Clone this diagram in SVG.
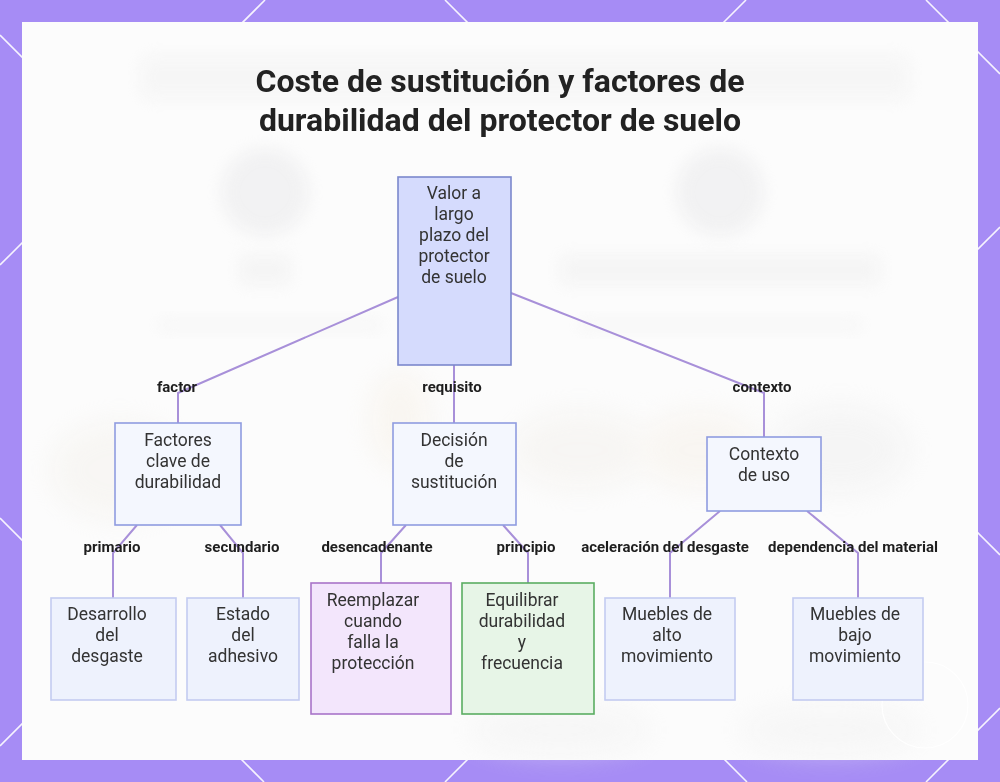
<svg xmlns="http://www.w3.org/2000/svg" width="1000" height="782" viewBox="0 0 1000 782">
<defs>
<filter id="blur" x="-50%" y="-50%" width="200%" height="200%"><feGaussianBlur stdDeviation="8"/></filter>
<filter id="blur2" x="-50%" y="-50%" width="200%" height="200%"><feGaussianBlur stdDeviation="14"/></filter>
<style>
.bgline{stroke:#ffffff;stroke-width:1.6;opacity:0.9}
.n rect{stroke-width:1.6}
.root rect{fill:#d5dbfd;stroke:#7b88cc}
.mid rect{fill:#f4f7fe;stroke:#8f9ce0}
.leaf rect{fill:#eef2fd;stroke:#c3cbf1}
.purple rect{fill:#f3e6fc;stroke:#a874c8}
.green rect{fill:#e7f5e7;stroke:#5aad62}
.n text{font-family:Roboto,"Liberation Sans",sans-serif;font-size:17.5px;fill:#333;text-anchor:middle}
.edges path{fill:none;stroke:#a890d9;stroke-width:2}
.lbl{font-family:Roboto,"Liberation Sans",sans-serif;font-size:15px;font-weight:bold;fill:#1e1e1e;text-anchor:middle}
.title{font-family:Roboto,"Liberation Sans",sans-serif;font-size:32px;font-weight:bold;fill:#222;text-anchor:middle}
</style>
</defs>
<rect x="0" y="0" width="1000" height="782" fill="#a68cf5"/>
<g id="bg-lines">
<line class="bgline" x1="0" y1="265" x2="265" y2="0"/>
<line class="bgline" x1="0" y1="746" x2="746" y2="0"/>
<line class="bgline" x1="445" y1="782" x2="1000" y2="227"/>
<line class="bgline" x1="926" y1="782" x2="1000" y2="708"/>
<line class="bgline" x1="445" y1="0" x2="1000" y2="555"/>
<line class="bgline" x1="0" y1="35" x2="747" y2="782"/>
<line class="bgline" x1="0" y1="518" x2="264" y2="782"/>
<line class="bgline" x1="926" y1="0" x2="1000" y2="74"/>
</g>
<rect x="22" y="22" width="956" height="738" fill="#fcfcfc"/>
<g id="bg-blur" opacity="0.45">
<circle cx="265" cy="192" r="44" fill="#e6e6e8" filter="url(#blur)"/>
<circle cx="720" cy="192" r="44" fill="#e6e6e8" filter="url(#blur)"/>
<rect x="140" y="55" width="770" height="45" rx="10" fill="#f0f0f0" filter="url(#blur)"/>
<rect x="240" y="255" width="50" height="30" fill="#ececec" filter="url(#blur)"/>
<rect x="560" y="255" width="320" height="30" fill="#ededed" filter="url(#blur)"/>
<rect x="160" y="318" width="220" height="14" fill="#f1f1f1" filter="url(#blur)"/>
<rect x="580" y="318" width="280" height="14" fill="#f1f1f1" filter="url(#blur)"/>
<ellipse cx="580" cy="450" rx="70" ry="40" fill="#f2efea" filter="url(#blur2)"/>
<ellipse cx="700" cy="450" rx="60" ry="40" fill="#f5efe6" filter="url(#blur2)"/>
<ellipse cx="840" cy="450" rx="70" ry="45" fill="#eeeeee" filter="url(#blur2)"/>
<ellipse cx="400" cy="420" rx="30" ry="50" fill="#f6efe4" filter="url(#blur2)"/>
<ellipse cx="120" cy="470" rx="70" ry="50" fill="#f3f0ea" filter="url(#blur2)"/>
<ellipse cx="560" cy="730" rx="90" ry="25" fill="#f0f0f0" filter="url(#blur2)"/>
<ellipse cx="830" cy="730" rx="90" ry="25" fill="#f0f0f0" filter="url(#blur2)"/>
</g>
<g id="watermark" fill="none" stroke="#ffffff" stroke-width="1.2" opacity="0.9">
<circle cx="925" cy="705" r="43"/>
</g>
<text class="title" x="500" y="92">Coste de sustitución y factores de</text>
<text class="title" x="500" y="131">durabilidad del protector de suelo</text>
<g id="connectors" class="edges">
<path d="M398,297 L178,393 L178,423"/>
<path d="M454,365 L454,423"/>
<path d="M511,293 L764,393 L764,437"/>
<path d="M137,525 L113,553 L113,598"/>
<path d="M220,525 L243,553 L243,598"/>
<path d="M406,525 L381,553 L381,583"/>
<path d="M503,525 L528,553 L528,583"/>
<path d="M720,511 L670,553 L670,598"/>
<path d="M807,511 L858,553 L858,598"/>
</g>
<g id="edge-labels">
<text class="lbl" x="177" y="392">factor</text>
<text class="lbl" x="452" y="392">requisito</text>
<text class="lbl" x="762" y="392">contexto</text>
<text class="lbl" x="112" y="552">primario</text>
<text class="lbl" x="242" y="552">secundario</text>
<text class="lbl" x="377" y="552">desencadenante</text>
<text class="lbl" x="526" y="552">principio</text>
<text class="lbl" x="665" y="552">aceleración del desgaste</text>
<text class="lbl" x="853" y="552">dependencia del material</text>
</g>
<g id="n-root" class="n root">
<rect x="398" y="177" width="113" height="188"/>
<text x="454" y="199">Valor a</text>
<text x="454" y="220">largo</text>
<text x="454" y="241">plazo del</text>
<text x="454" y="262">protector</text>
<text x="454" y="283">de suelo</text>
</g>
<g id="n-factores" class="n mid">
<rect x="115" y="423" width="126" height="102"/>
<text x="178" y="446">Factores</text>
<text x="178" y="467">clave de</text>
<text x="178" y="488">durabilidad</text>
</g>
<g id="n-decision" class="n mid">
<rect x="393" y="423" width="123" height="102"/>
<text x="454" y="446">Decisión</text>
<text x="454" y="467">de</text>
<text x="454" y="488">sustitución</text>
</g>
<g id="n-contexto" class="n mid">
<rect x="707" y="437" width="114" height="74"/>
<text x="764" y="460">Contexto</text>
<text x="764" y="481">de uso</text>
</g>
<g id="n-desarrollo" class="n leaf">
<rect x="51" y="598" width="125" height="102"/>
<text x="107" y="620">Desarrollo</text>
<text x="107" y="641">del</text>
<text x="107" y="662">desgaste</text>
</g>
<g id="n-estado" class="n leaf">
<rect x="187" y="598" width="112" height="102"/>
<text x="243" y="620">Estado</text>
<text x="243" y="641">del</text>
<text x="243" y="662">adhesivo</text>
</g>
<g id="n-reemplazar" class="n purple">
<rect x="311" y="583" width="140" height="131"/>
<text x="373" y="606">Reemplazar</text>
<text x="373" y="627">cuando</text>
<text x="373" y="648">falla la</text>
<text x="373" y="669">protección</text>
</g>
<g id="n-equilibrar" class="n green">
<rect x="462" y="583" width="132" height="131"/>
<text x="522" y="606">Equilibrar</text>
<text x="522" y="627">durabilidad</text>
<text x="522" y="648">y</text>
<text x="522" y="669">frecuencia</text>
</g>
<g id="n-alto" class="n leaf">
<rect x="605" y="598" width="130" height="102"/>
<text x="667" y="620">Muebles de</text>
<text x="667" y="641">alto</text>
<text x="667" y="662">movimiento</text>
</g>
<g id="n-bajo" class="n leaf">
<rect x="793" y="598" width="130" height="102"/>
<text x="855" y="620">Muebles de</text>
<text x="855" y="641">bajo</text>
<text x="855" y="662">movimiento</text>
</g>
</svg>
